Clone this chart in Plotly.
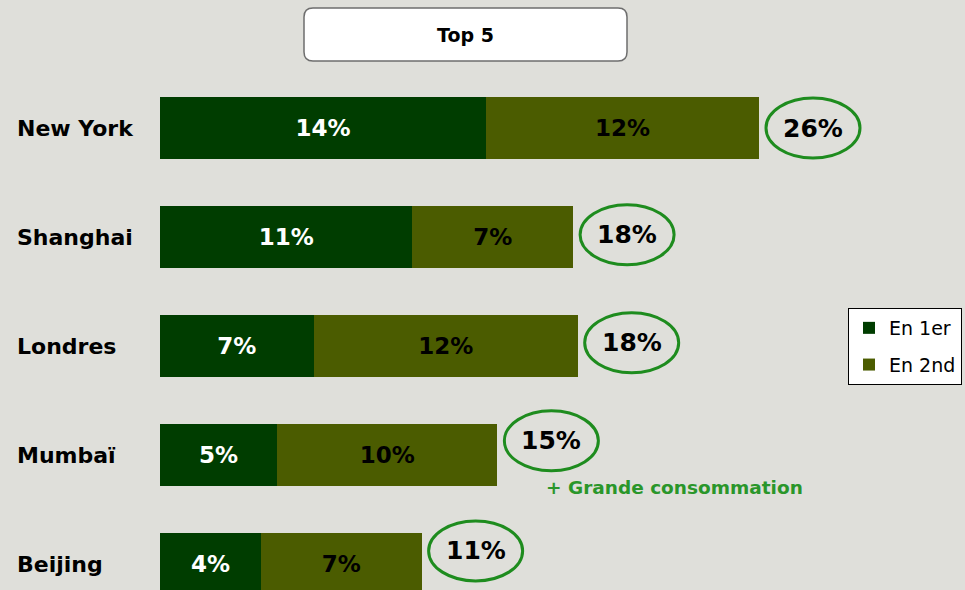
"""Top 5 cities: stacked horizontal bars with circled totals."""

import plotly.graph_objects as go

cities = ["New York", "Shanghai", "Londres", "Mumbaï", "Beijing"]
first = [14.2, 11.0, 6.7, 5.1, 4.4]
second = [11.9, 7.0, 11.5, 9.6, 7.0]
first_labels = ["14%", "11%", "7%", "5%", "4%"]
second_labels = ["12%", "7%", "12%", "10%", "7%"]
totals = ["26%", "18%", "18%", "15%", "11%"]
# the ellipses for the last two rows sit a little higher than the bar
total_shift = [0.0, -0.02, -0.03, -0.13, -0.12]

W, H = 965, 590
PX = 22.95          # pixels per percentage point
ROW = 109           # pixels per row
BG = "#dfdfda"
C1 = "#003d00"
C2 = "#4b5c00"
RING = "#1e8c1e"
FONT = "DejaVu Sans"

ys = list(range(len(cities)))

fig = go.Figure()
fig.add_trace(go.Bar(
    y=ys, x=first, orientation="h", name="En 1er", legendgroup="a",
    marker=dict(color=C1, line=dict(width=0)),
    text=first_labels, texttemplate="<b>%{text}</b>",
    textposition="inside", insidetextanchor="middle",
    textfont=dict(color="white", size=23, family=FONT),
    width=0.56,
))
fig.add_trace(go.Bar(
    y=ys, x=second, orientation="h", name="En 2nd", legendgroup="b",
    marker=dict(color=C2, line=dict(width=0)),
    text=second_labels, texttemplate="<b>%{text}</b>",
    textposition="inside", insidetextanchor="middle",
    textfont=dict(color="black", size=23, family=FONT),
    width=0.56,
))

# circled totals
for i, (a, b, t) in enumerate(zip(first, second, totals)):
    cx = a + b + 54 / PX
    cy = i + total_shift[i]
    fig.add_shape(
        type="circle", xref="x", yref="y",
        xsizemode="pixel", ysizemode="pixel",
        xanchor=cx, yanchor=cy,
        x0=-47, x1=47, y0=-30, y1=30,
        line=dict(color=RING, width=3), fillcolor="rgba(0,0,0,0)",
    )
    fig.add_annotation(
        x=cx, y=cy, text=f"<b>{t}</b>", showarrow=False,
        font=dict(size=25, color="black", family=FONT),
    )

# city names on the left
for i, c in enumerate(cities):
    fig.add_annotation(
        x=-145 / PX, y=i, text=f"<b>{c}</b>", showarrow=False,
        xanchor="left", font=dict(size=22, color="black", family=FONT),
    )

fig.add_annotation(
    x=first[3] + second[3] + 47 / PX, y=3.3,
    text="<b>+ Grande consommation</b>", showarrow=False, xanchor="left",
    font=dict(size=18.5, color="#2a962a", family=FONT),
)

# rounded title box
x0, x1 = 304 / W, 627 / W
y0, y1 = 1 - 61 / H, 1 - 8 / H
rx, ry = 9 / W, 9 / H
path = (
    f"M {x0 + rx},{y1} L {x1 - rx},{y1} Q {x1},{y1} {x1},{y1 - ry} "
    f"L {x1},{y0 + ry} Q {x1},{y0} {x1 - rx},{y0} "
    f"L {x0 + rx},{y0} Q {x0},{y0} {x0},{y0 + ry} "
    f"L {x0},{y1 - ry} Q {x0},{y1} {x0 + rx},{y1} Z"
)
fig.add_shape(
    type="path", xref="paper", yref="paper", path=path,
    fillcolor="white", line=dict(color="#6e6e6e", width=1.5), layer="above",
)
fig.add_annotation(
    x=(x0 + x1) / 2, y=(y0 + y1) / 2, xref="paper", yref="paper",
    xanchor="center", yanchor="middle",
    text="<b>Top 5</b>", showarrow=False,
    font=dict(size=19, color="black", family=FONT),
)

fig.update_layout(
    width=W, height=H,
    barmode="stack",
    paper_bgcolor=BG, plot_bgcolor=BG,
    margin=dict(l=0, r=0, t=0, b=0),
    showlegend=True,
    legend=dict(
        x=962 / W, y=1 - 308 / H, xanchor="right", yanchor="top",
        traceorder="grouped",
        bgcolor="white", bordercolor="black", borderwidth=1,
        font=dict(size=19, color="black", family=FONT),
        itemwidth=30, tracegroupgap=9,
    ),
    xaxis=dict(range=[-160 / PX, (W - 160) / PX], visible=False),
    yaxis=dict(range=[(H - 128) / ROW, -128 / ROW], visible=False),
)

fig.write_html(
    "out.html",
    config={"displayModeBar": False},
    post_script=f"document.body.style.margin='0';"
                f"document.body.style.background='{BG}';",
)
